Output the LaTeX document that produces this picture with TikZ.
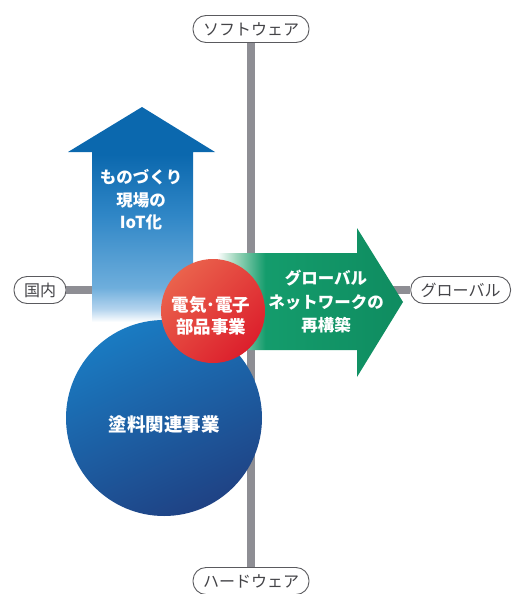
\documentclass[tikz,border=0pt]{standalone}
\usepackage{fontspec}
\setmainfont{Noto Sans CJK JP}
\definecolor{axisgray}{HTML}{8E8E94}
\definecolor{labelgray}{HTML}{5A5A5E}
\definecolor{labeltext}{HTML}{444448}
\definecolor{iotdark}{HTML}{0B68AE}
\definecolor{iotmid}{HTML}{2F86C6}
\definecolor{iotlight}{HTML}{6EAEDC}
\definecolor{iotpale}{HTML}{B4D4EE}
\definecolor{painttop}{HTML}{1A7BC2}
\definecolor{paintmid}{HTML}{245A9E}
\definecolor{paintbot}{HTML}{1F4284}
\definecolor{redlight}{HTML}{EA624C}
\definecolor{reddark}{HTML}{DC1F2C}
\definecolor{netpale}{HTML}{9ED6BC}
\definecolor{netgreen}{HTML}{149C6C}
\definecolor{netdark}{HTML}{0F8C60}
\pgfdeclareverticalshading{iotfade}{100bp}{color(0bp)=(white); color(25bp)=(white); color(28bp)=(iotpale); color(33bp)=(iotlight); color(50bp)=(iotmid); color(64bp)=(iotdark); color(100bp)=(iotdark)}
\pgfdeclarehorizontalshading{netfade}{100bp}{color(0bp)=(white); color(25bp)=(white); color(30bp)=(netpale); color(38bp)=(netgreen); color(75bp)=(netdark); color(100bp)=(netdark)}
\tikzset{
  axislabel/.style={draw=labelgray, line width=0.9pt, fill=white, rounded corners=13pt,
    minimum height=27pt, inner xsep=10pt, inner ysep=0pt, text=labeltext,
    font=\fontsize{16}{16}\selectfont},
  axisline/.style={axisgray, line width=8.5pt},
  whitetext/.style={text=white, align=center, font=\bfseries\fontsize{16.5}{22.5}\selectfont},
}
\begin{document}
\begin{tikzpicture}[x=1pt,y=-1pt]
\useasboundingbox (0,0) rectangle (513,594);
% axes
\node[axislabel] (soft) at (251,29) {ソフトウェア};
\node[axislabel] (hard) at (251,581) {ハードウェア};
\node[axislabel] (home) at (40,290) {国内};
\node[axislabel, anchor=east] (world) at (511,290) {グローバル};
\draw[axisline] (soft) -- (hard);
\draw[axisline] (home) -- (world);

% IoT arrow
\shade[shading=iotfade] (92,322) -- (92,152) -- (68,152) -- (142,107) -- (215,152)
  -- (193,152) -- (193,322) -- cycle;
\node[whitetext] (iot) at (141,200) {ものづくり\\現場の\\IoT化};

% paint business
\node[circle, minimum size=196pt, top color=painttop, middle color=paintmid,
  bottom color=paintbot, shading angle=25] (paint) at (164,418) {};
\node[whitetext, font=\bfseries\fontsize{18.5}{22}\selectfont] (painttext) at (164,424) {塗料関連事業};

% global network arrow
\shade[shading=netfade] (217,253) -- (357,253) -- (357,228) -- (403,302) -- (357,377)
  -- (357,350) -- (217,350) -- cycle;
\node[whitetext, font=\bfseries\fontsize{16.5}{23.5}\selectfont] (net) at (326,302) {グローバル\\ネットワークの\\再構築};

% electronics business
\node[circle, minimum size=104pt, top color=redlight, bottom color=reddark,
  shading angle=45] (elec) at (213,311) {};
\node[whitetext, font=\bfseries\fontsize{17.5}{21.5}\selectfont] (electext) at (211,316) {電気･電子\\部品事業};

\end{tikzpicture}
\end{document}
